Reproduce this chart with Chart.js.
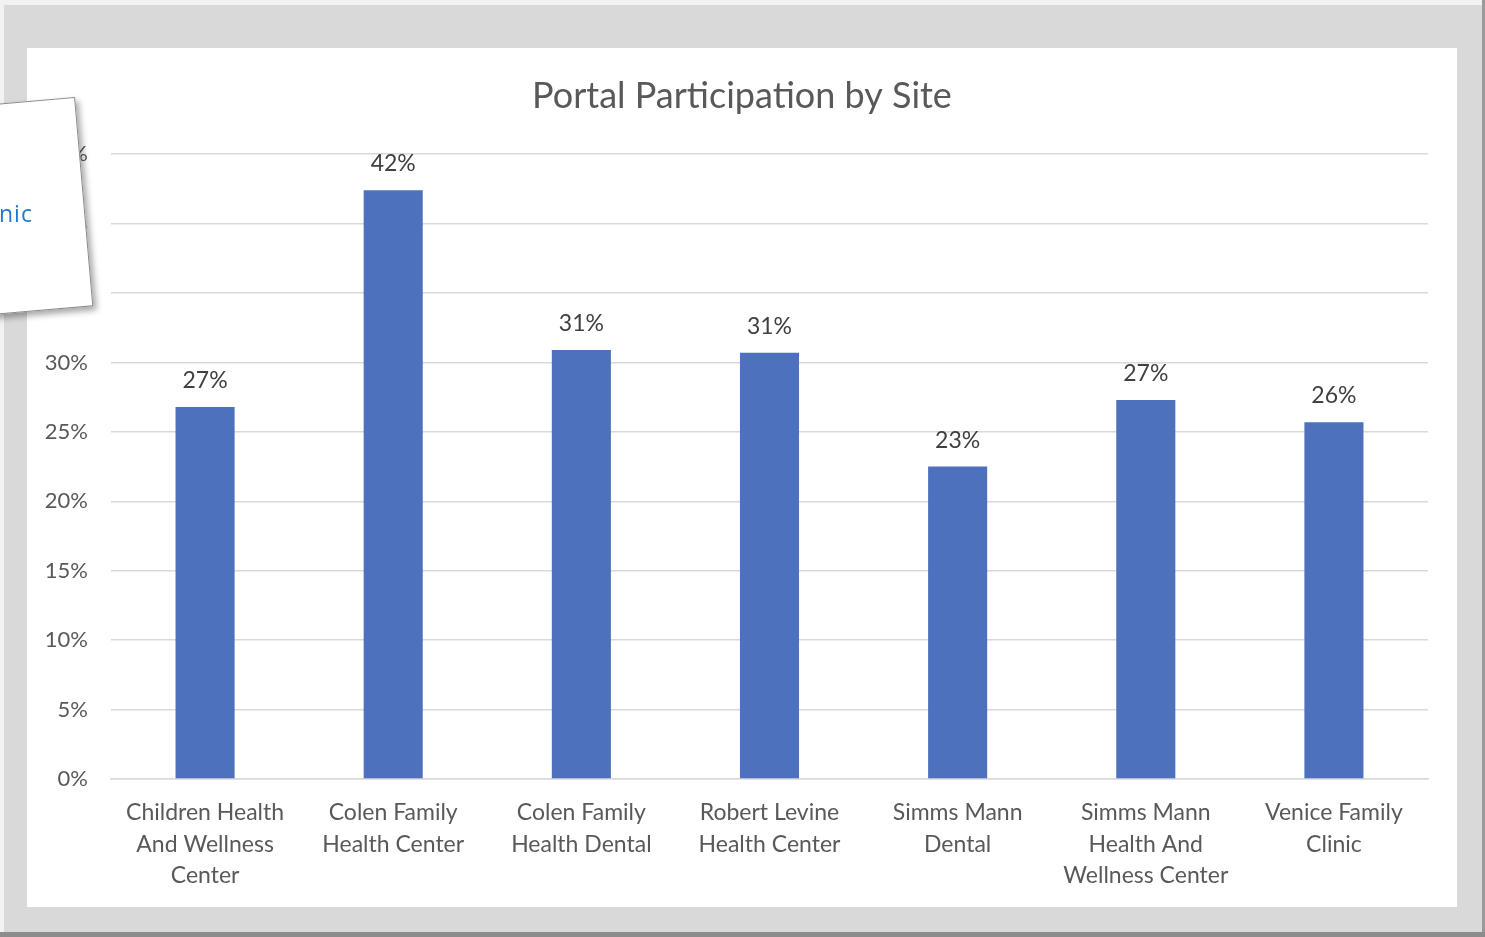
<!DOCTYPE html>
<html>
<head>
<meta charset="utf-8">
<script src="https://cdn.jsdelivr.net/npm/chart.js@4/dist/chart.umd.min.js"></script>
<style>
  html, body { margin: 0; padding: 0; }
  body { width: 1485px; height: 937px; position: relative; overflow: hidden; background: #f2f2f2; font-family: Lato, sans-serif; }
  #frame { position: absolute; left: 4px; top: 5px; width: 1478px; height: 927px; background: #d9d9d9; }
  #rightEdge { position: absolute; left: 1482px; top: 0; width: 3px; height: 937px; background: #9a9a9a; }
  #bottomEdge { position: absolute; left: 0; top: 932px; width: 1485px; height: 5px; background: #8c8c8c; }
  #panel { position: absolute; left: 27px; top: 48px; width: 1430px; height: 859px; background: #ffffff; }
  #card { position: absolute; left: -30px; top: 97px; width: 103px; height: 208px; background: #ffffff;
          border: 1px solid #8a8a8a; transform: rotate(-5deg); transform-origin: top right;
          box-shadow: 3px 4px 6px rgba(0,0,0,0.35); }
  #cardText { position: absolute; left: -1px; top: 197px; font-family: "Open Sans", sans-serif; font-size: 23px; color: #1f78d1; letter-spacing: 1px; }
</style>
</head>
<body>
<div id="frame"></div>
<div id="rightEdge"></div>
<div id="bottomEdge"></div>
<div id="panel"><canvas id="c"></canvas></div>
<div id="card"></div>
<div id="cardText">nic</div>
<script>
const categories = [
  ["Children Health", "And Wellness", "Center"],
  ["Colen Family", "Health Center"],
  ["Colen Family", "Health Dental"],
  ["Robert Levine", "Health Center"],
  ["Simms Mann", "Dental"],
  ["Simms Mann", "Health And", "Wellness Center"],
  ["Venice Family", "Clinic"]
];
const participation = [26.8, 42.4, 30.9, 30.7, 22.5, 27.3, 25.7];
const dataLabels = ["27%", "42%", "31%", "31%", "23%", "27%", "26%"];
const yTicks = [0, 5, 10, 15, 20, 25, 30, 35, 40, 45];

const valueLabelPlugin = {
  id: 'valueLabels',
  afterDatasetsDraw(chart) {
    const ctx = chart.ctx;
    const meta = chart.getDatasetMeta(0);
    ctx.save();
    ctx.font = '23px Lato, sans-serif';
    ctx.fillStyle = '#404040';
    ctx.textAlign = 'center';
    ctx.textBaseline = 'alphabetic';
    meta.data.forEach((bar, i) => {
      ctx.fillText(dataLabels[i], bar.x, bar.y - 19);
    });
    ctx.restore();
  }
};

new Chart(document.getElementById('c'), {
  type: 'bar',
  data: {
    labels: categories,
    datasets: [{
      data: participation,
      backgroundColor: '#4e71bd',
      borderWidth: 0,
      categoryPercentage: 1.0,
      barPercentage: 0.314
    }]
  },
  options: {
    responsive: true,
    maintainAspectRatio: false,
    animation: false,
    layout: { padding: 0 },
    plugins: {
      legend: { display: false },
      tooltip: { enabled: false },
      title: {
        display: true,
        text: 'Portal Participation by Site',
        color: '#595959',
        font: { family: 'Lato, sans-serif', size: 36, weight: 'normal', lineHeight: 1.2 },
        padding: { top: 27, bottom: 36 }
      }
    },
    scales: {
      x: {
        grid: { display: false, drawTicks: false },
        border: { display: true, color: '#d9d9d9', width: 1.5 },
        ticks: {
          color: '#595959',
          font: { family: 'Lato, sans-serif', size: 23, lineHeight: 1.37 },
          padding: 18,
          maxRotation: 0,
          autoSkip: false
        },
        afterFit(scale) { scale.height = 128; }
      },
      y: {
        min: 0,
        max: 45,
        afterBuildTicks(scale) { scale.ticks = yTicks.map(v => ({ value: v })); },
        grid: { color: '#d9d9d9', lineWidth: 1.5, drawTicks: false },
        border: { display: false },
        ticks: {
          color: '#595959',
          font: { family: 'Lato, sans-serif', size: 22 },
          padding: 23,
          callback: v => v + '%'
        },
        afterFit(scale) { scale.width = 84; }
      },
      ySpacer: {
        position: 'right',
        display: true,
        min: 0,
        max: 45,
        grid: { display: false, drawTicks: false },
        border: { display: false },
        ticks: { display: false },
        afterFit(scale) { scale.width = 29; }
      }
    }
  },
  plugins: [valueLabelPlugin]
});
</script>
</body>
</html>
